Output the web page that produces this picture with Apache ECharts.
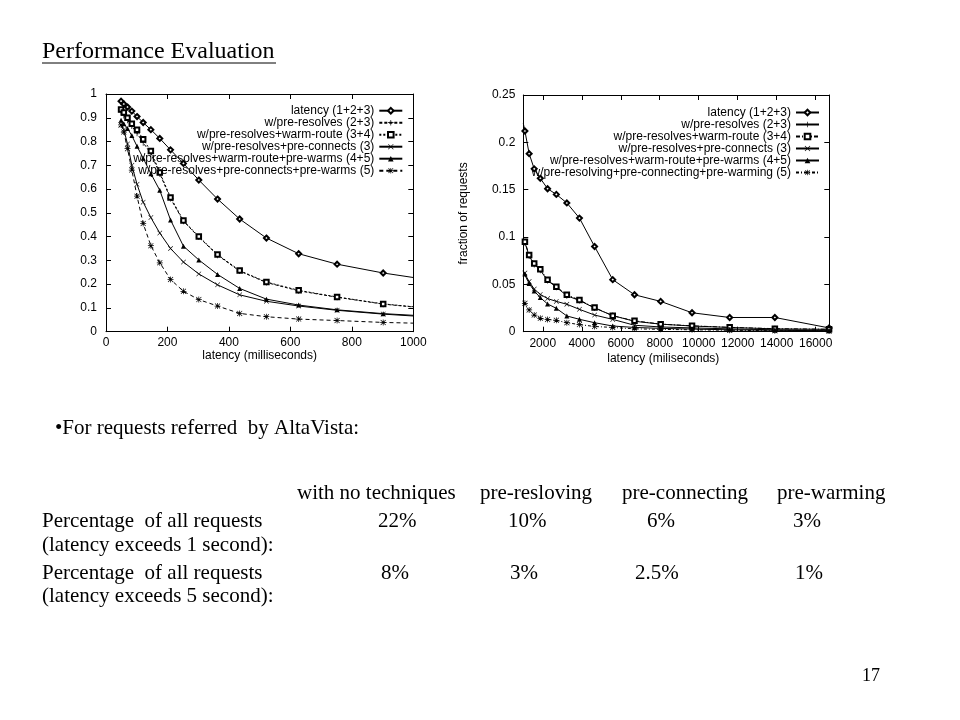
<!DOCTYPE html>
<html><head><meta charset="utf-8">
<script src="https://cdn.jsdelivr.net/npm/echarts@6/dist/echarts.min.js"></script>
<style>html,body{margin:0;padding:0;background:#fff}#c{width:960px;height:720px}</style>
</head><body><div id="c"></div>
<script>
// ---------- data ----------
const leftX = [49,58,70,84,101,121,146,175,210,252,302,363,435,522,627,752,902,1000];
const leftLatency     = [0.970,0.958,0.945,0.928,0.905,0.880,0.850,0.813,0.765,0.708,0.638,0.558,0.474,0.394,0.328,0.284,0.247,0.228];
const leftPreResolves = [0.925,0.910,0.890,0.865,0.835,0.795,0.750,0.665,0.560,0.465,0.398,0.322,0.255,0.207,0.172,0.145,0.116,0.104];
const leftWarmRoute   = [0.935,0.922,0.900,0.875,0.850,0.810,0.760,0.670,0.565,0.468,0.400,0.325,0.257,0.209,0.174,0.146,0.117,0.105];
const leftPreConnects = [0.870,0.850,0.790,0.700,0.620,0.545,0.480,0.415,0.350,0.293,0.243,0.197,0.155,0.128,0.108,0.090,0.074,0.066];
const leftWarms45     = [0.890,0.875,0.855,0.825,0.780,0.730,0.665,0.595,0.470,0.360,0.302,0.241,0.182,0.137,0.112,0.092,0.076,0.069];
const leftWarms5      = [0.870,0.840,0.770,0.680,0.570,0.455,0.362,0.290,0.220,0.170,0.135,0.108,0.077,0.063,0.053,0.047,0.039,0.036];

const rightX = [1000,1083,1300,1560,1872,2246,2695,3234,3881,4657,5589,6706,8048,9657,11589,13907,16688];
const rightLatency     = [0.220,0.212,0.188,0.172,0.162,0.151,0.145,0.136,0.120,0.090,0.055,0.039,0.032,0.020,0.015,0.015,0.004];
const rightPreResolves = [0.098,0.094,0.080,0.071,0.065,0.054,0.047,0.038,0.033,0.025,0.017,0.011,0.008,0.006,0.0045,0.003,0.0025];
const rightWarmRoute   = [0.099,0.095,0.081,0.072,0.066,0.055,0.0475,0.039,0.0335,0.0255,0.0168,0.0115,0.008,0.0062,0.0046,0.0032,0.0026];
const rightPreConnects = [0.064,0.062,0.053,0.045,0.0394,0.035,0.032,0.029,0.0236,0.0176,0.013,0.0068,0.005,0.004,0.003,0.002,0.0015];
const rightWarms45     = [0.063,0.061,0.051,0.043,0.036,0.0293,0.0247,0.0166,0.0131,0.0095,0.006,0.0045,0.0035,0.0028,0.002,0.0015,0.001];
const rightWarms5      = [0.031,0.030,0.023,0.0176,0.0141,0.013,0.012,0.0095,0.0075,0.0055,0.0045,0.003,0.0025,0.002,0.0015,0.001,0.0008];

const leftNames = ['latency (1+2+3)','w/pre-resolves (2+3)','w/pre-resolves+warm-route (3+4)','w/pre-resolves+pre-connects (3)','w/pre-resolves+warm-route+pre-warms (4+5)','w/pre-resolves+pre-connects+pre-warms (5)'];
const rightNames = ['latency (1+2+3)','w/pre-resolves (2+3)','w/pre-resolves+warm-route (3+4)','w/pre-resolves+pre-connects (3)','w/pre-resolves+warm-route+pre-warms (4+5)','w/pre-resolving+pre-connecting+pre-warming (5)'];
const rightTickValues = [2000,4000,6000,8000,10000,12000,14000,16000];

const title = 'Performance Evaluation';
const bulletText = '\u2022For requests referred  by AltaVista:';
const tableHeaders = ['with no techniques','pre-resloving','pre-connecting','pre-warming'];
const rowLabels = ['Percentage  of all requests','(latency exceeds 1 second):','Percentage  of all requests','(latency exceeds 5 second):'];
const row1Values = ['22%','10%','6%','3%'];
const row2Values = ['8%','3%','2.5%','1%'];
const pageNumber = '17';

// ---------- styles ----------
const PLUS = 'path://M0,4.4H10V5.6H0Z M4.4,0H5.6V10H4.4Z';
const CROSS = 'path://M0.8,0L5,4.2L9.2,0L10,0.8L5.8,5L10,9.2L9.2,10L5,5.8L0.8,10L0,9.2L4.2,5L0,0.8Z';
const STAR = 'path://M0,4.4H10V5.6H0Z M4.4,0H5.6V10H4.4Z M1.2,0.4L5,4.2L8.8,0.4L9.6,1.2L5.8,5L9.6,8.8L8.8,9.6L5,5.8L1.2,9.6L0.4,8.8L4.2,5L0.4,1.2Z';
const SANS = 'Liberation Sans';
const SERIF = 'Liberation Serif';

function mk(name, xs, ys, sym, size, dash, xi, yi, edgeX) {
  return {
    type: 'line', name: name, xAxisIndex: xi, yAxisIndex: yi,
    symbol: sym, symbolSize: size, showAllSymbol: true, animation: false,
    data: xs.map((x, i) => x === edgeX ? { value: [x, ys[i]], symbol: 'none' } : [x, ys[i]]),
    lineStyle: { color: '#000', width: 1, type: dash },
    itemStyle: { color: '#000' },
    emphasis: { disabled: true }
  };
}

const series = [
  mk(leftNames[0], leftX, leftLatency, 'emptyDiamond', 5, 'solid', 0, 0, 1000),
  mk(leftNames[1], leftX, leftPreResolves, PLUS, 6, [3, 2], 0, 0, 1000),
  mk(leftNames[2], leftX, leftWarmRoute, 'emptyRect', 4.5, [2, 2], 0, 0, 1000),
  mk(leftNames[3], leftX, leftPreConnects, CROSS, 5, 'solid', 0, 0, 1000),
  mk(leftNames[4], leftX, leftWarms45, 'triangle', 5, 'solid', 0, 0, 1000),
  mk(leftNames[5], leftX, leftWarms5, STAR, 6, [4, 3], 0, 0, 1000),
  mk(rightNames[0] + ' ', rightX, rightLatency, 'emptyDiamond', 5, 'solid', 2, 2, 1000),
  mk(rightNames[1] + ' ', rightX, rightPreResolves, PLUS, 6, 'solid', 2, 2, 1000),
  mk(rightNames[2] + ' ', rightX, rightWarmRoute, 'emptyRect', 4.5, [4, 2, 1, 2], 2, 2, 1000),
  mk(rightNames[3] + ' ', rightX, rightPreConnects, CROSS, 5, 'solid', 2, 2, 1000),
  mk(rightNames[4] + ' ', rightX, rightWarms45, 'triangle', 5, 'solid', 2, 2, 1000),
  mk(rightNames[5] + ' ', rightX, rightWarms5, STAR, 6, [3, 2, 1, 2], 2, 2, 1000)
];

const axLine = { show: true, onZero: false, lineStyle: { color: '#000', width: 1 } };
const tick = { show: true, inside: true, length: 5, lineStyle: { color: '#000', width: 1 } };
const lbl = { color: '#000', fontSize: 12, fontFamily: SANS, formatter: v => String(v) };
const nameStyle = { color: '#000', fontSize: 12, fontFamily: SANS };

const option = {
  backgroundColor: '#fff',
  animation: false,
  grid: [
    { left: 106, right: 960 - 413.3, top: 94, bottom: 720 - 331.7 },
    { left: 523.3, right: 960 - 829.3, top: 95, bottom: 720 - 331.7 }
  ],
  xAxis: [
    { type: 'value', gridIndex: 0, min: 0, max: 1000, interval: 200, position: 'bottom',
      name: 'latency (milliseconds)', nameLocation: 'middle', nameGap: 17, nameTextStyle: nameStyle,
      axisLine: axLine, axisTick: tick, axisLabel: Object.assign({ margin: 5 }, lbl), splitLine: { show: false } },
    { type: 'value', gridIndex: 0, min: 0, max: 1000, interval: 200, position: 'top',
      axisLine: axLine, axisTick: tick, axisLabel: { show: false }, splitLine: { show: false } },
    { type: 'value', gridIndex: 1, min: 1000, max: 16700, position: 'bottom',
      name: 'latency (miliseconds)', nameLocation: 'middle', nameGap: 21,
      nameTextStyle: Object.assign({ padding: [0, 26, 0, 0] }, nameStyle),
      axisLine: axLine, axisTick: Object.assign({ customValues: rightTickValues }, tick),
      axisLabel: Object.assign({ margin: 6, customValues: rightTickValues }, lbl), splitLine: { show: false } },
    { type: 'value', gridIndex: 1, min: 1000, max: 16700, position: 'top',
      axisLine: axLine, axisTick: Object.assign({ customValues: rightTickValues }, tick),
      axisLabel: { show: false, customValues: rightTickValues }, splitLine: { show: false } }
  ],
  yAxis: [
    { type: 'value', gridIndex: 0, min: 0, max: 1, interval: 0.1, position: 'left',
      axisLine: axLine, axisTick: tick, axisLabel: Object.assign({ margin: 9 }, lbl), splitLine: { show: false } },
    { type: 'value', gridIndex: 0, min: 0, max: 1, interval: 0.1, position: 'right',
      axisLine: axLine, axisTick: tick, axisLabel: { show: false }, splitLine: { show: false } },
    { type: 'value', gridIndex: 1, min: 0, max: 0.25, interval: 0.05, position: 'left',
      name: 'fraction of requests', nameLocation: 'middle', nameGap: 54, nameTextStyle: nameStyle,
      axisLine: axLine, axisTick: tick, axisLabel: Object.assign({ margin: 8 }, lbl), splitLine: { show: false } },
    { type: 'value', gridIndex: 1, min: 0, max: 0.25, interval: 0.05, position: 'right',
      axisLine: axLine, axisTick: tick, axisLabel: { show: false }, splitLine: { show: false } }
  ],
  legend: [
    { data: leftNames, orient: 'vertical', align: 'right', right: 960 - 403.3, top: 104.7, padding: 0,
      itemWidth: 23, itemHeight: 7, itemGap: 0, selectedMode: false, formatter: n => n.trim(),
      textStyle: { color: '#000', fontSize: 12, lineHeight: 11.9, fontFamily: SANS } },
    { data: rightNames.map(n => n + ' '), orient: 'vertical', align: 'right', right: 960 - 820, top: 106.5, padding: 0,
      itemWidth: 23, itemHeight: 7, itemGap: 0, selectedMode: false, formatter: n => n.trim(),
      textStyle: { color: '#000', fontSize: 12, lineHeight: 10.3, fontFamily: SANS } }
  ],
  series: series,
  graphic: []
};

// page texts
const g = option.graphic;
function txt(text, x, y, size, align) {
  g.push({ type: 'text', x: x, y: y, silent: true,
    style: { text: text, fill: '#000', font: size + 'px "' + SERIF + '"', textAlign: align || 'left', textVerticalAlign: 'middle' } });
}
txt(title, 42, 52, 24);
g.push({ type: 'line', silent: true, shape: { x1: 42, y1: 63, x2: 276, y2: 63 }, style: { stroke: '#000', lineWidth: 1 } });
txt(bulletText, 55, 428, 21);
const headerX = [297, 480, 622, 777];
tableHeaders.forEach((h, i) => txt(h, headerX[i], 493, 21));
const rowY = [521, 545, 573, 596];
rowLabels.forEach((r, i) => txt(r, 42, rowY[i], 21));
const v1X = [378, 508, 647, 793];
const v2X = [381, 510, 635, 795];
row1Values.forEach((v, i) => txt(v, v1X[i], rowY[0], 21));
row2Values.forEach((v, i) => txt(v, v2X[i], rowY[2], 21));
txt(pageNumber, 862, 676, 18);

const chart = echarts.init(document.getElementById('c'), null, { renderer: 'canvas' });
chart.setOption(option);
</script>
</body></html>
